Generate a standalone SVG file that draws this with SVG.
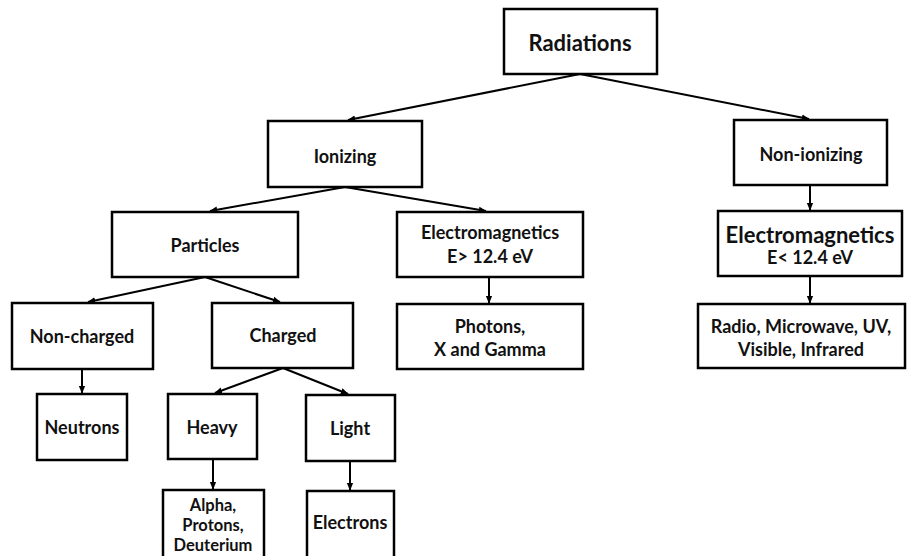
<svg xmlns="http://www.w3.org/2000/svg" width="912" height="556" viewBox="0 0 912 556">
<defs>
<marker id="ah" viewBox="0 0 10 10" refX="9" refY="5" markerWidth="4" markerHeight="4" orient="auto" markerUnits="strokeWidth">
<path d="M0,1 L10,5 L0,9 z" fill="#000"/>
</marker>
<style>
.box{fill:#fff;stroke:#000;stroke-width:2.5}
.t{font-family:Lato,"Liberation Sans",sans-serif;font-weight:bold;font-size:18px;fill:#111;text-anchor:middle}
.big{font-size:22px}
.sm{font-size:16.5px}
.c{stroke:#000;stroke-width:2;fill:none;marker-end:url(#ah)}
</style>
</defs>
<rect width="912" height="556" fill="#fff"/>
<g id="connectors">
<line class="c" x1="580" y1="74" x2="348" y2="120"/>
<line class="c" x1="580" y1="74" x2="809" y2="119"/>
<line class="c" x1="345" y1="187" x2="210" y2="211"/>
<line class="c" x1="345" y1="187" x2="486" y2="211"/>
<line class="c" x1="810" y1="185" x2="810" y2="210"/>
<line class="c" x1="810" y1="276" x2="810" y2="303"/>
<line class="c" x1="489" y1="277" x2="489" y2="303"/>
<line class="c" x1="205" y1="277" x2="88" y2="302"/>
<line class="c" x1="205" y1="277" x2="280" y2="302"/>
<line class="c" x1="82" y1="369" x2="82" y2="393"/>
<line class="c" x1="283" y1="368" x2="215" y2="393"/>
<line class="c" x1="283" y1="368" x2="348" y2="394"/>
<line class="c" x1="213" y1="459" x2="213" y2="489"/>
<line class="c" x1="350" y1="461" x2="350" y2="490"/>
</g>
<g id="radiations">
<rect class="box" x="504" y="9" width="153" height="65"/>
<text class="t big" x="580" y="51">Radiations</text>
</g>
<g id="ionizing">
<rect class="box" x="268" y="121" width="154" height="66"/>
<text class="t" x="345" y="163">Ionizing</text>
</g>
<g id="non-ionizing">
<rect class="box" x="734" y="120" width="153" height="65"/>
<text class="t" x="811" y="161">Non-ionizing</text>
</g>
<g id="em-high">
<rect class="box" x="397" y="212" width="186" height="65"/>
<text class="t" x="490" y="239">Electromagnetics</text>
<text class="t" x="490" y="263">E&gt; 12.4 eV</text>
</g>
<g id="em-low">
<rect class="box" x="718" y="211" width="184" height="65"/>
<text class="t big" x="810" y="243">Electromagnetics</text>
<text class="t" x="810" y="264">E&lt; 12.4 eV</text>
</g>
<g id="particles">
<rect class="box" x="112" y="212" width="186" height="65"/>
<text class="t" x="205" y="252">Particles</text>
</g>
<g id="photons">
<rect class="box" x="397" y="304" width="186" height="65"/>
<text class="t" x="490" y="333">Photons,</text>
<text class="t" x="490" y="356">X and Gamma</text>
</g>
<g id="radio">
<rect class="box" x="698" y="304" width="207" height="64"/>
<text class="t" x="801" y="333">Radio, Microwave, UV,</text>
<text class="t" x="801" y="356">Visible, Infrared</text>
</g>
<g id="non-charged">
<rect class="box" x="12" y="303" width="141" height="66"/>
<text class="t" x="82" y="343">Non-charged</text>
</g>
<g id="charged">
<rect class="box" x="212" y="303" width="141" height="65"/>
<text class="t" x="283" y="342">Charged</text>
</g>
<g id="neutrons">
<rect class="box" x="37" y="394" width="90" height="66"/>
<text class="t" x="82" y="434">Neutrons</text>
</g>
<g id="heavy">
<rect class="box" x="168" y="394" width="89" height="65"/>
<text class="t" x="212" y="434">Heavy</text>
</g>
<g id="light">
<rect class="box" x="306" y="395" width="89" height="66"/>
<text class="t" x="350" y="435">Light</text>
</g>
<g id="alpha">
<rect class="box" x="163" y="490" width="101" height="70"/>
<text class="t sm" x="213" y="511">Alpha,</text>
<text class="t sm" x="213" y="531">Protons,</text>
<text class="t sm" x="213" y="551">Deuterium</text>
</g>
<g id="electrons">
<rect class="box" x="307" y="491" width="87" height="69"/>
<text class="t" x="350" y="529">Electrons</text>
</g>
</svg>
